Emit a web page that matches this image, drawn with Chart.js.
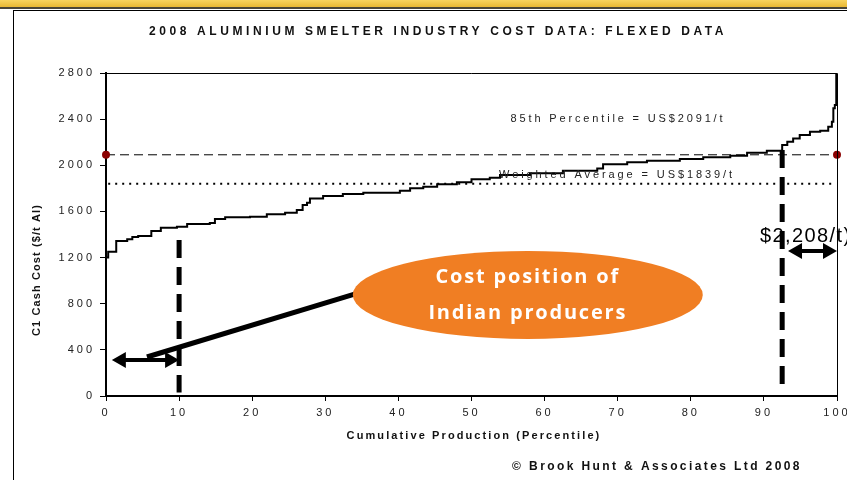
<!DOCTYPE html>
<html>
<head>
<meta charset="utf-8">
<script src="https://cdn.jsdelivr.net/npm/chart.js@4.4.0/dist/chart.umd.min.js"></script>
<style>
  html, body { margin: 0; padding: 0; background: #fff; }
  #wrap { position: relative; width: 847px; height: 480px; overflow: hidden; }
  #band { position: absolute; left: 0; top: 0; width: 847px; height: 7px;
          background: linear-gradient(#f9d45e, #e9b833); border-bottom: 2px solid #4b4637; }
  #frame { position: absolute; left: 13px; top: 10px; width: 900px; height: 500px;
           border-left: 1.5px solid #000; border-top: 1.5px solid #000; }
  canvas { position: absolute; left: 0; top: 0; }
</style>
</head>
<body>
<div id="wrap">
  <div id="band"></div>
  <div id="frame"></div>
  <canvas id="chart" width="847" height="480"></canvas>
</div>
<script>
// cost curve (cumulative production %, C1 cash cost $/t)
var percentile = [0, 0.3, 1.4, 2.9, 3.6, 4.4, 6.2, 7.5, 9.7, 11.1, 14.2, 14.9, 16.3, 19.7, 22.0,
  24.5, 26.1, 26.9, 27.5, 27.9, 29.7, 32.4, 35.2, 40.2, 41.6, 43.4, 45.3, 48.0, 50.0, 52.5,
  53.9, 58.0, 62.5, 67.2, 68.0, 71.3, 74.0, 78.5, 81.7, 85.4, 87.7, 90.4, 92.5, 93.2, 94.0,
  94.9, 96.3, 97.7, 98.8, 99.3, 99.5, 99.7, 99.9];
var cashCost = [1200, 1250, 1344, 1358, 1378, 1387, 1430, 1459, 1468, 1491, 1500, 1534, 1549, 1554, 1575,
  1589, 1612, 1656, 1676, 1713, 1734, 1751, 1762, 1780, 1800, 1815, 1835, 1852, 1878, 1892,
  1916, 1930, 1953, 1973, 2008, 2026, 2040, 2055, 2069, 2083, 2109, 2126, 2176, 2205, 2233,
  2262, 2291, 2300, 2335, 2378, 2494, 2523, 2800];

var percentile85 = 2091;
var weightedAverage = 1839;
var indiaShare = 10;      // Indian producers up to 10th percentile
var marginalCut = 92.5;   // high-cost tail
var xTickStep = 10;
var yTickStep = 400;

var curve = percentile.map(function(p, i) { return { x: p, y: cashCost[i] }; });

var spacing = {
  id: 'spacing',
  beforeLayout: function(chart) { chart.ctx.letterSpacing = '3px'; },
  beforeDraw: function(chart) { chart.ctx.letterSpacing = '3px'; }
};

function text(ctx, str, x, y, font, color, sp, align) {
  ctx.font = font;
  ctx.fillStyle = color;
  ctx.letterSpacing = sp + 'px';
  ctx.textAlign = align || 'center';
  ctx.textBaseline = 'middle';
  ctx.fillText(str, x, y);
}

function doubleArrow(ctx, x1, x2, y) {
  var h = 14, w = 8;
  ctx.lineWidth = 4;
  ctx.beginPath(); ctx.moveTo(x1 + h - 2, y); ctx.lineTo(x2 - h + 2, y); ctx.stroke();
  ctx.beginPath();
  ctx.moveTo(x1, y); ctx.lineTo(x1 + h, y - w); ctx.lineTo(x1 + h, y + w); ctx.closePath();
  ctx.moveTo(x2, y); ctx.lineTo(x2 - h, y - w); ctx.lineTo(x2 - h, y + w); ctx.closePath();
  ctx.fill();
}

var notes = {
  id: 'notes',
  afterDraw: function(chart) {
    var ctx = chart.ctx, sx = chart.scales.x, sy = chart.scales.y, a = chart.chartArea;
    ctx.save();
    ctx.strokeStyle = '#000';
    ctx.fillStyle = '#000';

    // plot frame top and right
    ctx.lineWidth = 1;
    ctx.beginPath();
    ctx.moveTo(a.left, a.top + 0.5); ctx.lineTo(a.right + 0.5, a.top + 0.5); ctx.lineTo(a.right + 0.5, a.bottom);
    ctx.stroke();

    // thick dashed verticals
    ctx.lineWidth = 5;
    ctx.setLineDash([18, 9]);
    ctx.beginPath();
    ctx.moveTo(sx.getPixelForValue(indiaShare), sy.getPixelForValue(1352));
    ctx.lineTo(sx.getPixelForValue(indiaShare), sy.getPixelForValue(30));
    ctx.moveTo(sx.getPixelForValue(marginalCut), sy.getPixelForValue(2132));
    ctx.lineTo(sx.getPixelForValue(marginalCut), sy.getPixelForValue(30));
    ctx.stroke();
    ctx.setLineDash([]);

    // arrows
    doubleArrow(ctx, sx.getPixelForValue(0.8), sx.getPixelForValue(10), sy.getPixelForValue(312));
    doubleArrow(ctx, sx.getPixelForValue(93.3), sx.getPixelForValue(100), sy.getPixelForValue(1257));

    // connector to bubble
    ctx.lineWidth = 5;
    ctx.beginPath();
    ctx.moveTo(sx.getPixelForValue(5.6), sy.getPixelForValue(338));
    ctx.lineTo(sx.getPixelForValue(34), sy.getPixelForValue(884));
    ctx.stroke();

    // orange bubble
    var cx = sx.getPixelForValue(57.7), cy = sy.getPixelForValue(876);
    ctx.fillStyle = '#f07e23';
    ctx.beginPath();
    ctx.ellipse(cx, cy, 175, 44, 0, 0, Math.PI * 2);
    ctx.fill();
    text(ctx, 'Cost position of', cx, cy - 18, 'bold 20px "Open Sans"', '#fff', 1.8);
    text(ctx, 'Indian producers', cx, cy + 18, 'bold 20px "Open Sans"', '#fff', 1.8);

    text(ctx, '$2,208/t)', 760, 236, '20px "Liberation Sans"', '#000', 1.4, 'left');

    // line labels
    text(ctx, '85th Percentile = US$' + percentile85 + '/t', 618, 119, '11px "Liberation Sans"', '#222', 2.85);
    text(ctx, 'Weighted Average = US$' + weightedAverage + '/t', 617, 175, '11px "Liberation Sans"', '#222', 2.9);

    // titles
    text(ctx, '2008 ALUMINIUM SMELTER INDUSTRY COST DATA: FLEXED DATA', 438, 32, 'bold 12px "Liberation Sans"', '#111', 3.6);
    text(ctx, 'Cumulative Production (Percentile)', 474, 436, 'bold 11px "Liberation Sans"', '#111', 2.1);
    text(ctx, '\u00a9 Brook Hunt & Associates Ltd 2008', 657, 467, 'bold 12px "Liberation Sans"', '#111', 2.4);

    ctx.save();
    ctx.translate(37, 270);
    ctx.rotate(-Math.PI / 2);
    text(ctx, 'C1 Cash Cost ($/t Al)', 0, 0, 'bold 11px "Liberation Sans"', '#111', 1.1);
    ctx.restore();

    ctx.restore();
  }
};

new Chart(document.getElementById('chart'), {
  type: 'line',
  data: {
    datasets: [
      {
        data: curve,
        borderColor: '#000',
        borderWidth: 2,
        stepped: true,
        pointRadius: 0
      },
      {
        data: [{ x: 0, y: percentile85 }, { x: 100, y: percentile85 }],
        borderColor: '#000',
        borderWidth: 1,
        borderDash: [9, 5],
        pointRadius: 4,
        pointBackgroundColor: '#8b0000',
        pointBorderWidth: 0,
        clip: false
      },
      {
        data: [{ x: 0.3, y: weightedAverage }, { x: 99.7, y: weightedAverage }],
        borderColor: '#000',
        borderWidth: 2,
        borderDash: [2, 5],
        pointRadius: 0
      }
    ]
  },
  options: {
    responsive: false,
    animation: false,
    devicePixelRatio: 1,
    layout: { padding: { left: 0, right: 10, top: 73, bottom: 0 } },
    plugins: { legend: { display: false }, tooltip: { enabled: false } },
    scales: {
      x: {
        type: 'linear',
        min: 0,
        max: 100,
        afterFit: function(s) { s.height = 84; s.paddingLeft = 0; s.paddingRight = 0; },
        ticks: {
          stepSize: xTickStep, color: '#222', font: { family: 'Liberation Sans', size: 11 }, padding: 5, maxRotation: 0,
          callback: function(v) { return String(v); }
        },
        grid: { drawOnChartArea: false, tickLength: 5, tickColor: '#000', tickWidth: 1 },
        border: { color: '#000', width: 2 }
      },
      y: {
        min: 0,
        max: 2800,
        afterFit: function(s) { s.width = 106; },
        ticks: {
          stepSize: yTickStep, color: '#222', font: { family: 'Liberation Sans', size: 11 }, padding: 5,
          callback: function(v) { return String(v); }
        },
        grid: { drawOnChartArea: false, tickLength: 6, tickColor: '#000', tickWidth: 1 },
        border: { color: '#000', width: 2 }
      }
    }
  },
  plugins: [spacing, notes]
});
</script>
</body>
</html>
